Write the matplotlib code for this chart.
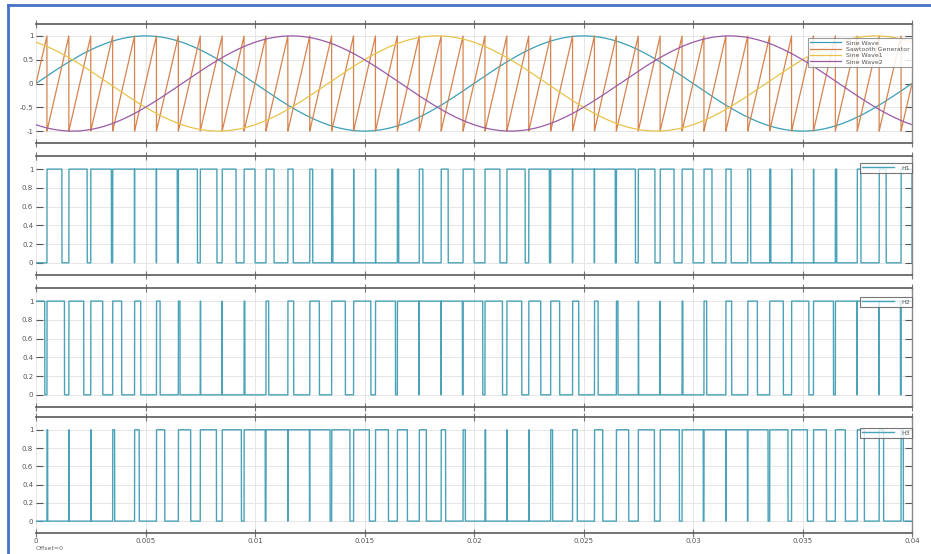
import numpy as np
import matplotlib.pyplot as plt
from matplotlib.lines import Line2D

# signal parameters
sine_freq = 50.0                      # Hz, two cycles in 0.04 s
sine_phases = [0.0, 2 * np.pi / 3, -2 * np.pi / 3]
sine_labels = ['Sine Wave', 'Sine Wave1', 'Sine Wave2']
sine_colors = ['#3a9fb8', '#e8c34a', '#9b5aa6']
carrier_freq = 1000.0                 # Hz, 40 teeth
carrier_label = 'Sawtooth Generator'
carrier_color = '#d5834f'
pwm_labels = ['H1', 'H2', 'H3']
t_end = 0.04
x_ticks = [0, 0.005, 0.01, 0.015, 0.02, 0.025, 0.03, 0.035, 0.04]
x_ticklabels = ['0', '0.005', '0.01', '0.015', '0.02', '0.025', '0.03', '0.035', '0.04']
top_yticks = [-1, -0.5, 0, 0.5, 1]
top_yticklabels = ['-1', '-0.5', '0', '0.5', '1']
pwm_yticks = [0, 0.2, 0.4, 0.6, 0.8, 1]
pwm_yticklabels = ['0', '0.2', '0.4', '0.6', '0.8', '1']

t = np.linspace(0, t_end, 80001)
sines = [np.sin(2 * np.pi * sine_freq * t + p) for p in sine_phases]
saw = 2 * np.mod(t * carrier_freq + 0.5, 1.0) - 1
pwm = [(s > saw).astype(float) for s in sines]

W, H = 931, 554
fig = plt.figure(figsize=(W / 100, H / 100), dpi=100)
fig.patch.set_facecolor('white')

left_px, right_px = 36, 912
panels_px = [(24, 143), (156, 275), (288, 407), (417, 533)]
legend_drop = [14, 7, 9, 11]   # px from panel top to legend top


def make_ax(top, bottom):
    ax = fig.add_axes([left_px / W, 1 - bottom / H, (right_px - left_px) / W, (bottom - top) / H])
    ax.set_xlim(0, t_end)
    ax.spines['left'].set_visible(False)
    for s in ['top', 'bottom']:
        ax.spines[s].set_color('#5a5a5a')
        ax.spines[s].set_linewidth(1.2)
    ax.spines['right'].set_color('#8a8a8a')
    ax.spines['right'].set_linewidth(1.0)
    ax.set_xticks(x_ticks)
    ax.grid(True, color='#e6e6e6', linewidth=0.7)
    ax.tick_params(axis='x', which='both', top=True, bottom=True, direction='inout',
                   length=6, width=0.8, color='#777777', labelsize=5, labelcolor='#555555', pad=0.5)
    ax.tick_params(axis='y', left=True, right=True, direction='in', length=5, width=0.8,
                   color='#555555', labelsize=5, labelcolor='#555555', pad=2)
    return ax


axes = [make_ax(tp, bt) for tp, bt in panels_px]


def anchor(i):
    tp, bt = panels_px[i]
    return (1.0, 1 - legend_drop[i] / (bt - tp))


# top panel: reference sines and sawtooth carrier
ax0 = axes[0]
ax0.plot(t, sines[0], color=sine_colors[0], lw=0.9, label=sine_labels[0])
ax0.plot(t, saw, color=carrier_color, lw=0.9, label=carrier_label)
ax0.plot(t, sines[1], color=sine_colors[1], lw=0.9, label=sine_labels[1])
ax0.plot(t, sines[2], color=sine_colors[2], lw=0.9, label=sine_labels[2])
ax0.set_ylim(-1.25, 1.25)
ax0.set_yticks(top_yticks)
ax0.set_yticklabels(top_yticklabels)
leg = ax0.legend(loc='upper right', bbox_to_anchor=anchor(0), fontsize=4.5, frameon=True,
                 fancybox=False, handlelength=5.0, handletextpad=0.8, borderpad=0.35,
                 labelspacing=0.15, borderaxespad=0.0, framealpha=0.85)
leg.get_frame().set_edgecolor('#888888')
leg.get_frame().set_linewidth(0.8)
for txt in leg.get_texts():
    txt.set_color('#555555')

# PWM panels
for i, (ax, sig, lab) in enumerate(zip(axes[1:], pwm, pwm_labels), start=1):
    ax.plot(t, sig, color='#4aa3b8', lw=1.0, label=lab)
    ax.set_ylim(-0.13, 1.14)
    ax.set_yticks(pwm_yticks)
    ax.set_yticklabels(pwm_yticklabels)
    lg = ax.legend(loc='upper right', bbox_to_anchor=anchor(i), fontsize=4.5, frameon=True,
                   fancybox=False, handlelength=5.0, handletextpad=1.2, borderpad=0.35,
                   borderaxespad=0.0)
    lg.get_frame().set_edgecolor('#555555')
    lg.get_frame().set_linewidth(0.8)
    for txt in lg.get_texts():
        txt.set_color('#555555')

for ax in axes[:-1]:
    ax.tick_params(axis='x', labelbottom=False)
axes[-1].set_xticklabels(x_ticklabels)

fig.text(left_px / W, 1 - 548 / H, 'Offset=0', fontsize=4.5, color='#666666', va='center')

# blue frame around the screenshot
border = '#4472c4'
fig.add_artist(Line2D([8 / W, 8 / W], [0, 1 - 5 / H], color=border, lw=2, transform=fig.transFigure))
fig.add_artist(Line2D([8 / W, 1], [1 - 5 / H, 1 - 5 / H], color=border, lw=2, transform=fig.transFigure))

fig.savefig('out.png', dpi=100)
